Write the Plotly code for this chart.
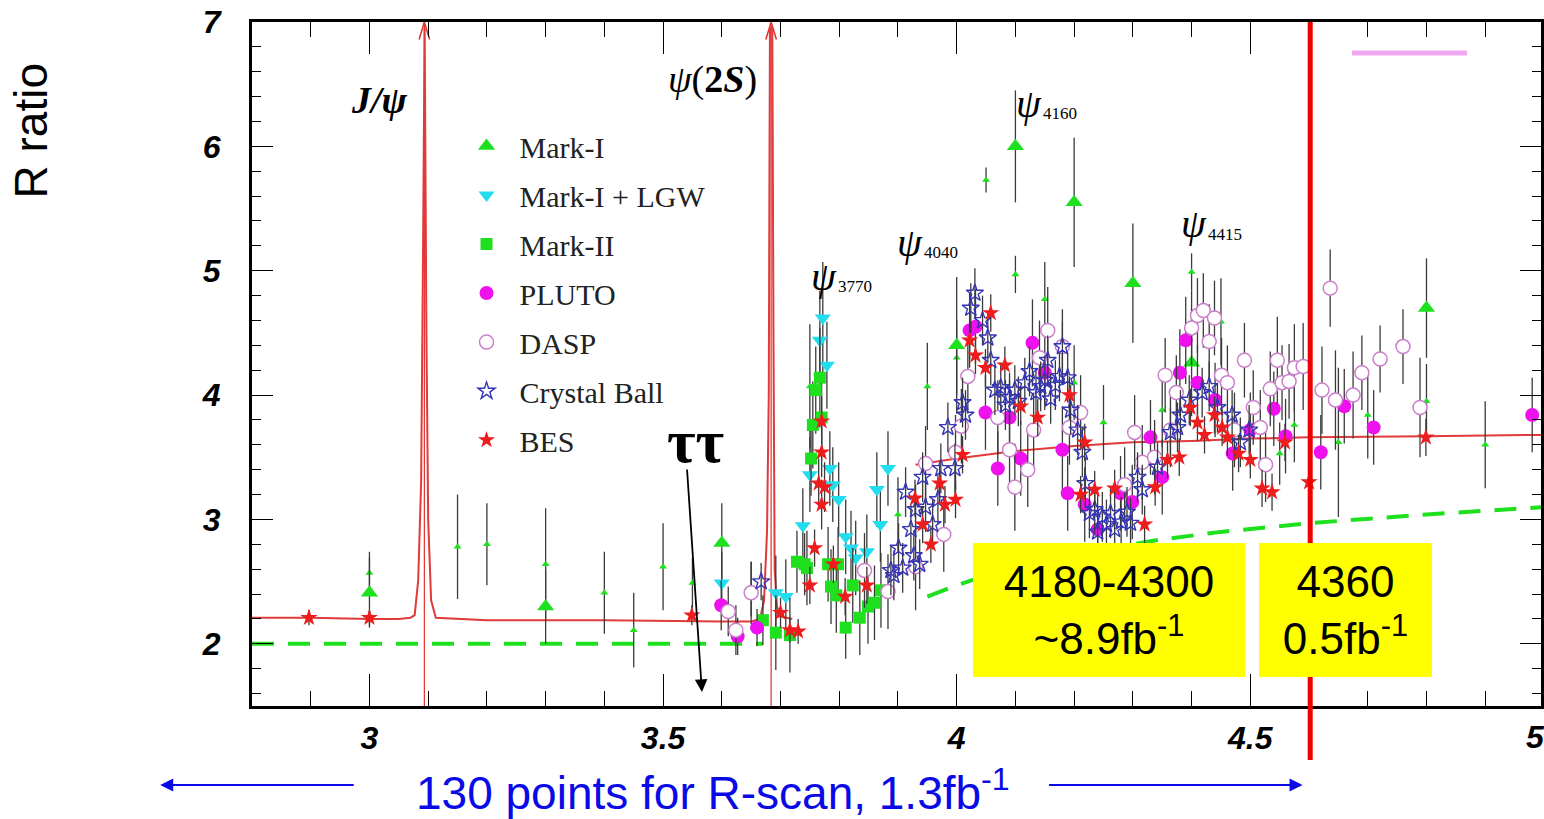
import plotly.graph_objects as go

# ---------------- data ----------------
markI_x = [3.00, 3.30, 3.60, 4.00, 4.10, 4.20, 4.30, 4.40, 4.80]
markI_y = [2.41, 2.30, 2.81, 4.40, 6.00, 5.55, 4.90, 4.26, 4.70]
markI_e = [0.28, 0.30, 0.32, 0.55, 0.45, 0.52, 0.48, 0.43, 0.40]

markIs_x = [3.00, 3.15, 3.20, 3.30, 3.40, 3.45, 3.50, 3.55, 3.65,
            3.75, 3.90, 3.95, 4.00, 4.05, 4.10, 4.15, 4.20, 4.25,
            4.35, 4.40, 4.45, 4.55, 4.575, 4.65, 4.70, 4.80, 4.90]
markIs_y = [2.57, 2.78, 2.80, 2.64, 2.41, 2.11, 2.62, 2.49, 2.44,
            4.07, 3.04, 4.07, 4.30, 5.73, 4.97, 4.77, 4.10, 3.78,
            3.88, 4.99, 4.59, 3.53, 3.76, 3.62, 3.84, 3.95, 3.60]
markIs_e = [0.17, 0.42, 0.33, 0.45, 0.33, 0.30, 0.35, 0.20, 0.22,
            0.50, 0.30, 0.35, 0.30, 0.10, 0.15, 0.30, 0.30, 0.30,
            0.30, 0.15, 0.35, 0.25, 0.30, 0.60, 0.35, 0.30, 0.35]

lgw_x = [3.600, 3.692, 3.709, 3.738, 3.767, 3.772, 3.779, 3.750, 3.784,
         3.789, 3.799, 3.811, 3.820, 3.828, 3.847, 3.864, 3.870, 3.883]
lgw_y = [2.49, 2.41, 2.38, 2.95, 4.44, 4.62, 4.24, 3.36, 3.41,
         3.28, 3.16, 2.86, 2.77, 2.69, 2.74, 3.24, 2.96, 3.41]
lgw_e = [0.25, 0.30, 0.30, 0.30, 0.40, 0.45, 0.35, 0.30, 0.30,
         0.30, 0.30, 0.30, 0.30, 0.30, 0.30, 0.30, 0.30, 0.30]

markII_x = [3.670, 3.692, 3.716, 3.728, 3.741, 3.745, 3.752, 3.755, 3.760, 3.767,
            3.770, 3.781, 3.786, 3.795, 3.798, 3.811, 3.823, 3.835, 3.849, 3.860, 3.871]
markII_y = [2.19, 2.09, 2.07, 2.66, 2.64, 2.61, 3.49, 3.76, 4.04, 4.14,
            3.82, 2.64, 2.46, 2.39, 2.64, 2.13, 2.47, 2.21, 2.30, 2.33, 2.43]
markII_e = [0.20, 0.30, 0.30, 0.25, 0.25, 0.30, 0.30, 0.35, 0.35, 0.40,
            0.35, 0.30, 0.30, 0.30, 0.30, 0.25, 0.30, 0.30, 0.30, 0.30, 0.30]

pluto_x = [3.599, 3.627, 3.660, 4.022, 4.032, 4.049, 4.090, 4.070, 4.109, 4.129,
           4.150, 4.180, 4.189, 4.218, 4.240, 4.279, 4.299, 4.330, 4.350, 4.380,
           4.390, 4.410, 4.440, 4.470, 4.500, 4.540, 4.560, 4.620, 4.660, 4.710, 4.980]
pluto_y = [2.31, 2.06, 2.13, 4.52, 4.55, 3.86, 3.82, 3.41, 3.49, 4.42,
           4.18, 3.56, 3.21, 3.12, 2.92, 3.21, 3.14, 3.66, 3.34, 4.18,
           4.44, 4.10, 3.96, 3.53, 3.72, 3.89, 3.67, 3.54, 3.91, 3.74, 3.84]
pluto_e = [0.20, 0.15, 0.15, 0.30, 0.30, 0.30, 0.30, 0.30, 0.30, 0.35,
           0.30, 0.35, 0.30, 0.30, 0.30, 0.30, 0.30, 0.30, 0.30, 0.35,
           0.35, 0.30, 0.30, 0.30, 0.30, 0.30, 0.30, 0.30, 0.30, 0.30, 0.30]

dasp_x = [3.611, 3.624, 3.650, 3.843, 3.883, 3.930, 3.947, 3.978, 3.998, 4.008,
          4.019, 4.070, 4.090, 4.099, 4.121, 4.131, 4.141, 4.155, 4.180, 4.192,
          4.211, 4.286, 4.303, 4.316, 4.337, 4.355, 4.364, 4.374, 4.400, 4.410,
          4.420, 4.439, 4.430, 4.451, 4.461, 4.473, 4.490, 4.505, 4.517, 4.526,
          4.534, 4.546, 4.554, 4.566, 4.575, 4.590, 4.622, 4.636, 4.645, 4.675,
          4.690, 4.721, 4.760, 4.789]
dasp_y = [2.26, 2.11, 2.41, 2.59, 2.42, 2.62, 3.45, 2.88, 3.54, 3.75,
          4.15, 3.82, 3.56, 3.26, 3.40, 3.72, 4.30, 4.52, 4.39, 3.74,
          3.86, 3.28, 3.70, 3.46, 3.50, 4.16, 3.72, 4.02, 4.54, 4.64,
          4.68, 4.62, 4.43, 4.16, 4.10, 3.72, 4.28, 3.90, 3.74, 3.44,
          4.05, 4.28, 4.10, 4.11, 4.22, 4.23, 4.04, 4.86, 3.96, 4.00,
          4.18, 4.29, 4.39, 3.90]
dasp_e = [0.20, 0.20, 0.25, 0.30, 0.30, 0.35, 0.30, 0.30, 0.30, 0.30,
          0.30, 0.30, 0.30, 0.35, 0.30, 0.30, 0.30, 0.35, 0.30, 0.30,
          0.30, 0.30, 0.30, 0.30, 0.30, 0.30, 0.30, 0.30, 0.30, 0.30,
          0.30, 0.30, 0.30, 0.30, 0.30, 0.30, 0.30, 0.30, 0.30, 0.30,
          0.30, 0.35, 0.30, 0.30, 0.35, 0.35, 0.35, 0.31, 0.40, 0.35,
          0.30, 0.27, 0.30, 0.40]

cb_x = [3.667, 3.888, 3.893, 3.901, 3.908, 3.913, 3.922, 3.927, 3.930, 3.937,
        3.942, 3.947, 3.959, 3.968, 3.973, 3.985, 3.997, 4.010, 4.015, 4.031,
        4.024, 4.044, 4.053, 4.058, 4.065, 4.075, 4.083, 4.090, 4.099, 4.105,
        4.116, 4.124, 4.135, 4.143, 4.150, 4.155, 4.160, 4.168, 4.175, 4.180,
        4.189, 4.194, 4.206, 4.214, 4.219, 4.226, 4.235, 4.240, 4.248, 4.255,
        4.262, 4.269, 4.280, 4.290, 4.296, 4.308, 4.316, 4.342, 4.364, 4.376,
        4.381, 4.396, 4.418, 4.430, 4.444, 4.469, 4.483, 4.498]
cb_y = [2.50, 2.59, 2.55, 2.77, 2.61, 3.22, 2.92, 2.71, 3.08, 2.64,
        3.34, 3.10, 2.96, 3.16, 3.41, 3.74, 3.41, 3.94, 3.84, 4.82,
        4.70, 4.60, 4.46, 4.28, 4.04, 4.06, 3.92, 3.98, 4.04, 3.95,
        4.10, 4.19, 4.02, 4.07, 4.12, 4.28, 3.97, 4.08, 4.15, 4.39,
        4.14, 3.88, 3.72, 3.54, 3.29, 3.05, 3.08, 2.90, 3.02, 2.96,
        3.05, 2.92, 2.98, 3.06, 2.97, 3.34, 3.24, 3.42, 3.70, 3.74,
        3.84, 3.96, 4.02, 4.07, 3.90, 3.84, 3.62, 3.72]
cb_e = [0.15, 0.20, 0.20, 0.20, 0.20, 0.20, 0.20, 0.20, 0.20, 0.20,
        0.20, 0.20, 0.20, 0.20, 0.20, 0.20, 0.20, 0.20, 0.20, 0.20,
        0.20, 0.20, 0.20, 0.20, 0.20, 0.20, 0.20, 0.20, 0.20, 0.20,
        0.20, 0.20, 0.20, 0.20, 0.20, 0.20, 0.20, 0.20, 0.20, 0.20,
        0.20, 0.20, 0.20, 0.20, 0.20, 0.20, 0.20, 0.20, 0.20, 0.20,
        0.20, 0.20, 0.20, 0.20, 0.20, 0.20, 0.20, 0.20, 0.20, 0.20,
        0.20, 0.20, 0.20, 0.20, 0.20, 0.20, 0.20, 0.20]

bes_x = [2.897, 3.000, 3.549, 3.700, 3.716, 3.730, 3.758, 3.750, 3.770, 3.770,
         3.765, 3.775, 3.770, 3.790, 3.810, 3.847, 3.929, 3.942, 3.956, 3.971,
         3.980, 3.998, 4.010, 4.022, 4.032, 4.049, 4.058, 4.082, 4.109, 4.138,
         4.192, 4.218, 4.211, 4.235, 4.269, 4.320, 4.338, 4.359, 4.379, 4.398,
         4.410, 4.422, 4.439, 4.452, 4.461, 4.480, 4.500, 4.520, 4.537, 4.559,
         4.600, 4.799]
bes_y = [2.21, 2.21, 2.23, 2.25, 2.11, 2.10, 2.77, 2.47, 3.79, 3.54,
         3.29, 3.26, 3.12, 2.64, 2.38, 2.47, 3.17, 2.96, 2.80, 3.29,
         3.12, 3.16, 3.52, 4.44, 4.32, 4.22, 4.66, 4.24, 3.91, 3.82,
         4.00, 3.62, 3.20, 3.24, 3.25, 2.96, 3.26, 3.48, 3.50, 3.90,
         3.78, 3.68, 3.84, 3.74, 3.66, 3.53, 3.48, 3.25, 3.22, 3.62,
         3.30, 3.66]
bes_e = [0.06, 0.06, 0.08, 0.12, 0.10, 0.10, 0.15, 0.15, 0.20, 0.20,
         0.20, 0.20, 0.20, 0.15, 0.15, 0.15, 0.15, 0.15, 0.15, 0.15,
         0.15, 0.15, 0.15, 0.15, 0.15, 0.15, 0.15, 0.15, 0.15, 0.15,
         0.15, 0.15, 0.15, 0.15, 0.15, 0.15, 0.15, 0.15, 0.15, 0.15,
         0.15, 0.15, 0.15, 0.15, 0.15, 0.15, 0.15, 0.15, 0.15, 0.15,
         0.15, 0.15]

# theory curves
red_x = [2.80, 2.90, 3.00, 3.05, 3.070, 3.077, 3.083, 3.088, 3.091, 3.093,
         3.094, 3.097, 3.100, 3.105, 3.113, 3.20, 3.40, 3.60, 3.650, 3.665,
         3.672, 3.677, 3.680, 3.682, 3.686, 3.688, 3.690, 3.694, 3.700, 3.720,
         None, 3.93, 4.00, 4.10, 4.20, 4.30, 4.40, 4.50, 4.60, 4.80, 5.00]
red_y = [2.21, 2.21, 2.20, 2.20, 2.21, 2.23, 2.51, 3.30, 5.00, 6.95,
         6.95, 4.50, 3.00, 2.35, 2.21, 2.19, 2.19, 2.18, 2.18, 2.20,
         2.35, 2.90, 4.00, 6.95, 6.95, 4.50, 2.60, 2.30, 2.22, 2.20,
         None, 3.44, 3.49, 3.55, 3.59, 3.62, 3.63, 3.65, 3.66, 3.67, 3.68]

green_x = [2.80, 3.67, None, 3.95, 4.00, 4.05, 4.10, 4.20, 4.30, 4.35,
           4.45, 4.60, 4.80, 5.00]
green_y = [2.00, 2.00, None, 2.38, 2.47, 2.55, 2.62, 2.72, 2.80, 2.84,
           2.90, 2.97, 3.04, 3.10]

jpsi_mass = 3.0935
psi2s_mass = 3.684
scan_edge = 4.602

x_ticks = [3, 3.5, 4, 4.5]
x_tick_text = ["3", "3.5", "4", "4.5"]
y_ticks = [2, 3, 4, 5, 6, 7]
y_tick_text = ["2", "3", "4", "5", "6", "7"]

# ---------------- figure ----------------
W, H = 1544, 819
ML, MR, MT, MB = 252, 0, 22, 113
PW, PH = W - ML - MR, H - MT - MB


def pxx(p):
    return (p - ML) / PW


def pxy(p):
    return (H - MB - p) / PH


GREEN = "#1ee01e"
CYAN = "#22ddee"
MAG = "#ee11ee"
PINK = "#cc80cc"
BLUE = "#3535b5"
RED = "#ee1c1c"
ERR = dict(type="data", color="#3a3a3a", thickness=1.3, width=0)

fig = go.Figure()

# resonance lines and arrows
for m in (jpsi_mass, psi2s_mass):
    fig.add_trace(go.Scatter(x=[m, m], y=[1.5, 7.0], mode="lines",
                             line=dict(color="#e03030", width=1.2),
                             showlegend=False, hoverinfo="skip"))
    fig.add_trace(go.Scatter(x=[m - 0.009, m, m + 0.009], y=[6.86, 7.0, 6.86],
                             mode="lines", line=dict(color="#e03030", width=1.5),
                             showlegend=False, hoverinfo="skip"))

fig.add_trace(go.Scatter(x=red_x, y=red_y, mode="lines",
                         line=dict(color="#e03a3a", width=2),
                         showlegend=False, hoverinfo="skip"))
fig.add_trace(go.Scatter(x=green_x, y=green_y, mode="lines",
                         line=dict(color=GREEN, width=4, dash="22px,14px"),
                         showlegend=False, hoverinfo="skip"))

fig.add_trace(go.Scatter(x=markIs_x, y=markIs_y, error_y=dict(array=markIs_e, **ERR),
                         mode="markers", marker=dict(symbol="triangle-up", size=7, color=GREEN),
                         showlegend=False))
fig.add_trace(go.Scatter(x=markI_x, y=markI_y, error_y=dict(array=markI_e, **ERR),
                         mode="markers", name="Mark-I", legendgroup="a", legendrank=1,
                         marker=dict(symbol="triangle-up", size=15, color=GREEN)))
fig.add_trace(go.Scatter(x=lgw_x, y=lgw_y, error_y=dict(array=lgw_e, **ERR),
                         mode="markers", name="Mark-I + LGW", legendgroup="b", legendrank=2,
                         marker=dict(symbol="triangle-down", size=14, color=CYAN)))
fig.add_trace(go.Scatter(x=markII_x, y=markII_y, error_y=dict(array=markII_e, **ERR),
                         mode="markers", name="Mark-II", legendgroup="c", legendrank=3,
                         marker=dict(symbol="square", size=12, color=GREEN)))
fig.add_trace(go.Scatter(x=pluto_x, y=pluto_y, error_y=dict(array=pluto_e, **ERR),
                         mode="markers", name="PLUTO", legendgroup="d", legendrank=4,
                         marker=dict(symbol="circle", size=14, color=MAG)))
fig.add_trace(go.Scatter(x=dasp_x, y=dasp_y, error_y=dict(array=dasp_e, **ERR),
                         mode="markers", name="DASP", legendgroup="e", legendrank=5,
                         marker=dict(symbol="circle", size=14, color="white",
                                     line=dict(color=PINK, width=1.5))))
fig.add_trace(go.Scatter(x=cb_x, y=cb_y, error_y=dict(array=cb_e, **ERR),
                         mode="markers", name="Crystal Ball", legendgroup="f", legendrank=6,
                         marker=dict(symbol="star-open", size=13, color=BLUE,
                                     line=dict(color=BLUE, width=1.4))))
fig.add_trace(go.Scatter(x=bes_x, y=bes_y, error_y=dict(array=bes_e, **ERR),
                         mode="markers", name="BES", legendgroup="g", legendrank=7,
                         marker=dict(symbol="star", size=13, color=RED)))

ann = []
serif = "Liberation Serif"
sans = "Liberation Sans"


def label(text, cx, cy, font, xanchor="center", **kw):
    d = dict(text=text, x=pxx(cx), y=pxy(cy), xref="paper", yref="paper",
             xanchor=xanchor, yanchor="middle", showarrow=False, font=font)
    d.update(kw)
    ann.append(d)


label("<b><i>J/ψ</i></b>", 380, 100, dict(family=serif, size=38, color="black"))
label("<i>ψ</i>(<b>2</b><b><i>S</i></b>)", 714, 80, dict(family=serif, size=38, color="black"))
for lab, cx, cy in [("3770", 825, 276), ("4040", 912, 242), ("4160", 1031, 103), ("4415", 1196, 224)]:
    label("<i>ψ</i>", cx, cy, dict(family=serif, size=40, color="black"))
    label(lab, cx + 12, cy + 10, dict(family=serif, size=17, color="black"), xanchor="left")

# tau tau
label("<b>ττ</b>", 697, 441, dict(family=serif, size=62, color="black"))
ann.append(dict(text="", x=pxx(703), y=pxy(692), xref="paper", yref="paper",
                ax=688 - 703, ay=468 - 692, axref="pixel", ayref="pixel",
                showarrow=True, arrowhead=2, arrowsize=1.4, arrowwidth=1.8, arrowcolor="black"))

# yellow boxes
for txt, cx, w in [("4180-4300<br>~8.9fb<sup>-1</sup>", 1111, 272), ("4360<br>0.5fb<sup>-1</sup>", 1348.5, 173)]:
    label(txt, cx, 610, dict(family=sans, size=44, color="black"),
          bgcolor="#ffff00", width=w, height=134, borderpad=0, borderwidth=0)

# bottom text and arrows
label("130 points for R-scan, 1.3fb<sup>-1</sup>", 714, 790, dict(family=sans, size=46, color="#0a0ae6"))
ann.append(dict(text="", x=pxx(160), y=pxy(785), xref="paper", yref="paper",
                ax=355 - 160, ay=0, axref="pixel", ayref="pixel",
                showarrow=True, arrowhead=2, arrowsize=1.3, arrowwidth=2, arrowcolor="#0a0ae6"))
ann.append(dict(text="", x=pxx(1305), y=pxy(785), xref="paper", yref="paper",
                ax=1050 - 1305, ay=0, axref="pixel", ayref="pixel",
                showarrow=True, arrowhead=2, arrowsize=1.3, arrowwidth=2, arrowcolor="#0a0ae6"))

# y title
label("R ratio", 30, 131, dict(family=sans, size=46, color="black"), textangle=-90)
# partially visible "5" label at right edge
label("<b><i>5</i></b>", 1538, 737, dict(family=sans, size=32, color="black"))

shapes = [
    dict(type="line", x0=scan_edge, x1=scan_edge, xref="x", yref="paper", y0=pxy(760), y1=1.0,
         line=dict(color="#ee0000", width=5), layer="above"),
    dict(type="line", x0=4.673, x1=4.869, xref="x", yref="y", y0=6.75, y1=6.75,
         line=dict(color="#f0a8f0", width=5), layer="above"),
]

tickfont = dict(family=sans, size=32, color="black", weight="bold", style="italic")
fig.update_layout(
    width=W, height=H,
    margin=dict(l=ML, r=MR, t=MT, b=MB),
    paper_bgcolor="white", plot_bgcolor="white",
    annotations=ann, shapes=shapes,
    legend=dict(x=pxx(454), y=pxy(120), xanchor="left", yanchor="top",
                font=dict(family=serif, size=30, color="#222"),
                bgcolor="rgba(0,0,0,0)", tracegroupgap=7, itemsizing="trace", itemwidth=56),
    xaxis=dict(range=[2.8, 4.995], showgrid=False, zeroline=False, showline=True,
               linecolor="black", linewidth=3, mirror="allticks", ticks="inside",
               ticklen=32, tickwidth=1.3, tickcolor="black",
               tickvals=x_ticks, ticktext=x_tick_text, tickfont=tickfont, ticklabelstandoff=2,
               minor=dict(ticks="inside", ticklen=15, tickwidth=1.1, tickcolor="black",
                          tickmode="linear", tick0=0, dtick=0.1)),
    yaxis=dict(range=[1.5, 7.0], showgrid=False, zeroline=False, showline=True,
               linecolor="black", linewidth=3, mirror="allticks", ticks="inside",
               ticklen=21, tickwidth=1.3, tickcolor="black",
               tickvals=y_ticks, ticktext=y_tick_text, tickfont=tickfont, ticklabelstandoff=22,
               minor=dict(ticks="inside", ticklen=9, tickwidth=1.1, tickcolor="black",
                          tickmode="linear", tick0=0, dtick=0.2)),
)

fig.write_html("out.html")
